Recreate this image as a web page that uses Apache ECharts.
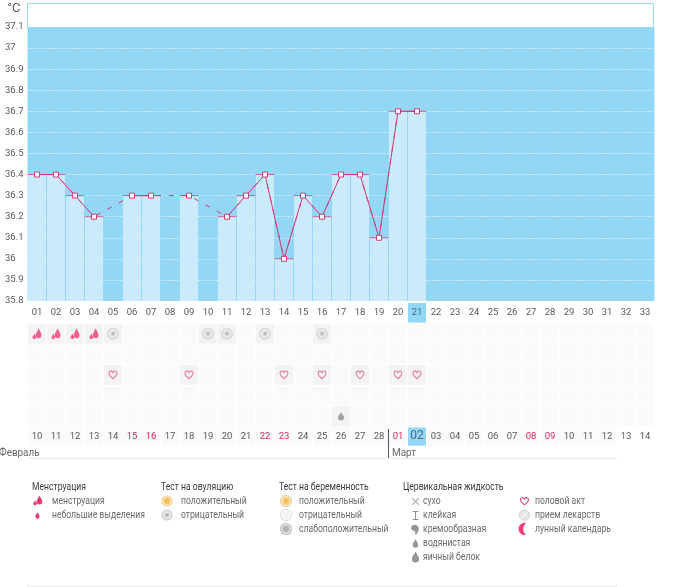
<!DOCTYPE html>
<html>
<head>
<meta charset="utf-8">
<title>График БТТ</title>
<script src="https://cdn.jsdelivr.net/npm/echarts@6/dist/echarts.min.js"></script>
<style>
    html, body { margin: 0; padding: 0; background: #fff; }
    #grafico { width: 692px; height: 587px; overflow: hidden; }
</style>
</head>
<body>
<div id="grafico"></div>
<script>
var cycleDays = ['01','02','03','04','05','06','07','08','09','10','11','12','13','14','15','16','17','18','19','20','21','22','23','24','25','26','27','28','29','30','31','32','33'];
var dateLabels = ['10','11','12','13','14','15','16','17','18','19','20','21','22','23','24','25','26','27','28','01','02','03','04','05','06','07','08','09','10','11','12','13','14'];
var temperatures = [36.4,36.4,36.3,36.2,null,36.3,36.3,null,36.3,null,36.2,36.3,36.4,36.0,36.3,36.2,36.4,36.4,36.1,36.7,36.7];
var holidayIdx = [5,6,12,13,19,26,27];
var todayIdx = 20;
var rowNames = ['r1','r2','r3','r4','r5'];

// days with marks (numbers of the cycle day)
var menstruationDays = [1,2,3,4];
var ovulationNegDays = [5,10,11,13,16];
var intercourseDays = [5,9,14,16,18,20,21];
var wateryDays = [17];

var legendMenstruation = ['менструация','небольшие выделения'];
var legendOvulation = ['положительный','отрицательный'];
var legendPregnancy = ['положительный','отрицательный','слабоположительный'];
var legendFluid = ['сухо','клейкая','кремообразная','водянистая','яичный белок'];
var legendOther = ['половой акт','прием лекарств','лунный календарь'];

var FONT = 'Roboto, sans-serif';
var PINK = '#d23a78';
var SKY = '#93d7f5';

var DROP = 'M0,-7C2,-3 4.5,-1 4.5,2.5A4.5,4.5 0 1 1 -4.5,2.5C-4.5,-1 -2,-3 0,-7Z';
var DOUBLE_DROP = 'M2,-7C3.5,-3 6,-1.5 6,1.5A4,4 0 0 1 -2,1.5C-2,-1.5 0.5,-3 2,-7ZM-4,0C-3,2 -1.5,3 -1.5,4.5A2.6,2.6 0 0 1 -6.6,4.5C-6.6,3 -5,2 -4,0Z';
var HEART = 'M0,6C-3,3.6 -6,1 -6,-2A3.2,3.2 0 0 1 0,-3.4A3.2,3.2 0 0 1 6,-2C6,1 3,3.6 0,6ZM0,4.2C2.4,2.3 4.6,0.2 4.6,-2A1.9,1.9 0 0 0 0.9,-2.2L0,-1L-0.9,-2.2A1.9,1.9 0 0 0 -4.6,-2C-4.6,0.2 -2.4,2.3 0,4.2Z';
var COMMA = 'M-2,-6A5.2,5.2 0 0 1 5,-1C5,3 3,6 0,7C1,4 0.5,2 -2,1.5A3.8,3.8 0 0 1 -2,-6Z';
var MOON = 'M3,-7A7.2,7.2 0 1 0 3,7A9,9 0 0 1 3,-7Z';
var CROSS = 'M-4,-4L4,4M-4,4L4,-4';
var STICKY = 'M-3.5,-5L3.5,-5M0,-5L0,5M-3.5,5L3.5,5';

// the graphic component has no "path" type, so the icons are registered as shapes
var iconPaths = { iconDrop: DROP, iconDouble: DOUBLE_DROP, iconHeart: HEART, iconComma: COMMA, iconMoon: MOON, iconCross: CROSS, iconSticky: STICKY };
Object.keys(iconPaths).forEach(function(name) {
    echarts.graphic.registerShape(name, echarts.graphic.extendPath(iconPaths[name], {}));
});

function ringFill(stops) {
    return { type: 'radial', x: 0.5, y: 0.5, r: 0.5, colorStops: stops };
}
var RING_GREY = ringFill([{offset:0,color:'#a6a6a6'},{offset:0.2,color:'#b4b4b4'},{offset:0.45,color:'#e6e6e6'},{offset:0.7,color:'#e4e4e4'},{offset:0.85,color:'#d2d2d2'},{offset:1,color:'#cdcdcd'}]);
var RING_ORANGE = ringFill([{offset:0,color:'#f5b84e'},{offset:0.55,color:'#f7c465'},{offset:0.7,color:'#fdeecb'},{offset:1,color:'#ecbb6d'}]);
var PREG_POS = ringFill([{offset:0,color:'#eeb24f'},{offset:0.5,color:'#f8cf7f'},{offset:0.8,color:'#fbe6bc'},{offset:1,color:'#c8c0a8'}]);
var PREG_NEG = ringFill([{offset:0,color:'#f3f3f3'},{offset:0.85,color:'#f6f6f6'},{offset:1,color:'#c8c8c8'}]);
var PREG_WEAK = ringFill([{offset:0,color:'#a8a8a8'},{offset:0.5,color:'#bdbdbd'},{offset:0.75,color:'#e6e6e6'},{offset:1,color:'#a6a6a6'}]);
var PILL = ringFill([{offset:0,color:'#ececec'},{offset:0.8,color:'#e2e2e2'},{offset:1,color:'#c6c6c6'}]);

function toPoints(days, row) {
    return days.map(function(d) { return [d - 1, row, 1]; });
}

// all the cells of the table, and those with a mark
var markedPoints = [].concat(
    toPoints(menstruationDays, 0), toPoints(ovulationNegDays, 0),
    toPoints(intercourseDays, 2), toPoints(wateryDays, 4)
);
var allCells = [];
rowNames.forEach(function(r, row) {
    cycleDays.forEach(function(d, i) { allCells.push([i, row, 0]); });
});

var capPoints = temperatures.map(function(v, i) { return v === null ? null : [i, v]; });

// legend: drawn with graphic elements, it is not tied to the series
var graphics = [];
function addText(text, x, y, fill, size, squeeze) {
    graphics.push({ type: 'text', silent: true, x: x, y: y, scaleX: squeeze || 0.86, style: {
        text: text, x: 0, y: 0, fill: fill, font: (size || 10) + 'px ' + FONT, textVerticalAlign: 'middle'
    }});
}
function addIcon(name, cx, cy, scale, fill, stroke) {
    graphics.push({ type: name, silent: true, x: cx, y: cy, scaleX: scale, scaleY: scale,
        style: { fill: fill || 'none', stroke: stroke || 'none', lineWidth: 1 / scale }
    });
}
function addCircle(cx, cy, r, fill) {
    graphics.push({ type: 'circle', silent: true, shape: { cx: cx, cy: cy, r: r }, style: { fill: fill } });
}
function addLine(x1, y1, x2, y2, color) {
    graphics.push({ type: 'line', silent: true, shape: { x1: x1, y1: y1, x2: x2, y2: y2 }, style: { stroke: color, lineWidth: 1 } });
}

var LEGEND_ROWS = [501, 515, 529, 543, 557];
var TXT = '#6a6a6a';
addText('Менструация', 32, 487, '#3c3c3c');
addText('Тест на овуляцию', 161, 487, '#3c3c3c');
addText('Тест на беременность', 279, 487, '#3c3c3c');
addText('Цервикальная жидкость', 403, 487, '#3c3c3c');
legendMenstruation.forEach(function(t, i) { addText(t, 52, LEGEND_ROWS[i], TXT); });
legendOvulation.forEach(function(t, i) { addText(t, 181, LEGEND_ROWS[i], TXT); });
legendPregnancy.forEach(function(t, i) { addText(t, 299, LEGEND_ROWS[i], TXT); });
legendFluid.forEach(function(t, i) { addText(t, 423, LEGEND_ROWS[i], TXT); });
legendOther.forEach(function(t, i) { addText(t, 535, LEGEND_ROWS[i], TXT); });

addIcon('iconDouble', 38, 500.5, 0.72, '#ee3a72');
addIcon('iconDrop', 37.5, 515.5, 0.45, '#ee3a72');
addCircle(167, 501, 5.5, RING_ORANGE);
addCircle(167, 515, 5.5, RING_GREY);
addCircle(286, 501, 6, PREG_POS);
addCircle(286, 515, 6, PREG_NEG);
addCircle(286, 529, 6, PREG_WEAK);
addIcon('iconCross', 415.5, 501.5, 0.85, null, '#a8a8a8');
addIcon('iconSticky', 415.5, 515.5, 0.8, null, '#909090');
addIcon('iconComma', 415, 529.5, 0.75, '#969696');
addIcon('iconDrop', 415.5, 543.5, 0.6, '#969696');
addIcon('iconDrop', 415.5, 557, 0.8, '#969696');
addIcon('iconHeart', 524.5, 501, 0.75, PINK);
addCircle(524.5, 515, 5.5, PILL);
addLine(520.5, 519, 528.5, 511, '#ffffff');
addIcon('iconMoon', 523.5, 529, 0.85, '#f0407a');

// frame over the chart, months and separators
graphics.push({ type: 'rect', silent: true, shape: { x: 27.5, y: 3.5, width: 626, height: 24 }, style: { fill: '#fff', stroke: '#9ad9f5', lineWidth: 1 } });
addLine(388.5, 429, 388.5, 458, '#555555');
addLine(27, 458.5, 617, 458.5, '#ececec');
addLine(27, 586.5, 617, 586.5, '#ececec');
addText('Февраль', -1, 453, '#666666', 11, 0.9);
addText('Март', 392, 453, '#666666', 11, 0.9);

var chart = echarts.init(document.getElementById('grafico'), null, { renderer: 'canvas' });
chart.setOption({
    animation: false,
    textStyle: { fontFamily: FONT },
    grid: [
        { left: 27.5, top: 27, width: 627, height: 274, show: true, backgroundColor: SKY, borderWidth: 0, outerBoundsMode: 'none' },
        { left: 27.5, top: 323.3, width: 627, height: 103.4, outerBoundsMode: 'none' }
    ],
    xAxis: [
        {
            type: 'category', gridIndex: 0, data: cycleDays,
            axisLine: { show: false }, axisTick: { show: false }, splitLine: { show: false },
            axisLabel: {
                interval: 0, margin: 2,
                formatter: function(value, index) {
                    return (index === todayIdx ? '{hl|' : '{n|') + value + '}';
                },
                rich: {
                    n: { color: '#5a5a5a', fontSize: 9.5, fontFamily: FONT, width: 18, height: 20, lineHeight: 20, align: 'center' },
                    hl: { color: '#4a6a80', fontSize: 9.5, fontFamily: FONT, width: 18, height: 20, lineHeight: 20, align: 'center', backgroundColor: SKY }
                }
            }
        },
        {
            type: 'category', gridIndex: 1, data: dateLabels,
            axisLine: { show: false }, axisTick: { show: false }, splitLine: { show: false },
            axisLabel: {
                interval: 0, margin: 0,
                formatter: function(value, index) {
                    if (index === todayIdx) { return '{hl|' + value + '}'; }
                    var st = holidayIdx.indexOf(index) >= 0 ? 'red' : 'n';
                    return '{' + st + (index > 30 ? 'x' : '') + '|' + value + '}';
                },
                rich: {
                    n: { color: '#5a5a5a', fontSize: 9.5, fontFamily: FONT, width: 18, height: 20, lineHeight: 20, align: 'center', backgroundColor: '#fafafb' },
                    nx: { color: '#5a5a5a', fontSize: 9.5, fontFamily: FONT, width: 18, height: 20, lineHeight: 20, align: 'center' },
                    red: { color: '#d8265f', fontSize: 9.5, fontFamily: FONT, width: 18, height: 20, lineHeight: 20, align: 'center', backgroundColor: '#fafafb' },
                    hl: { color: '#4a6a80', fontSize: 12, fontFamily: FONT, width: 18, height: 20, lineHeight: 18, align: 'center', backgroundColor: SKY }
                }
            }
        }
    ],
    yAxis: [
        {
            type: 'value', gridIndex: 0, min: 35.8, max: 37.1, interval: 0.1,
            name: '°C', nameLocation: 'end', nameGap: 12,
            nameTextStyle: { color: '#5a5a5a', fontSize: 13, align: 'right', padding: [0, 7, 0, 0] },
            axisLine: { show: false }, axisTick: { show: false },
            axisLabel: { color: '#5a5a5a', fontSize: 9.5, margin: 22.5, align: 'left', padding: [4, 0, 0, 0] },
            splitLine: { show: true, showMaxLine: false, lineStyle: { color: '#ffffff', type: [1, 2], width: 1 } }
        },
        {
            type: 'category', gridIndex: 1, data: rowNames, inverse: true, show: false
        }
    ],
    series: [
        {
            name: 'Столбцы', type: 'bar', xAxisIndex: 0, yAxisIndex: 0, data: temperatures,
            barWidth: 18, itemStyle: { color: '#cbebfc' }, silent: true, z: 2
        },
        {
            name: 'Пропуски', type: 'line', xAxisIndex: 0, yAxisIndex: 0, data: temperatures,
            connectNulls: true, showSymbol: false, symbol: 'none', silent: true, z: 3,
            lineStyle: { color: PINK, width: 1, type: [5, 8] }
        },
        {
            name: 'Вершины', type: 'scatter', xAxisIndex: 0, yAxisIndex: 0, data: capPoints,
            symbol: 'rect', symbolSize: [19, 1], itemStyle: { color: PINK }, silent: true, z: 4
        },
        {
            name: 'Температура', type: 'line', xAxisIndex: 0, yAxisIndex: 0, data: temperatures,
            connectNulls: false, symbol: 'rect', symbolSize: 5, showAllSymbol: true, silent: true, z: 5,
            lineStyle: { color: PINK, width: 1 },
            itemStyle: { color: '#ffffff', borderColor: PINK, borderWidth: 1 }
        },
        {
            name: 'Ячейки', type: 'heatmap', xAxisIndex: 1, yAxisIndex: 1, data: allCells, silent: true,
            itemStyle: { color: '#fafafb', borderColor: '#ffffff', borderWidth: 1 }
        },
        {
            name: 'Отмеченные', type: 'heatmap', xAxisIndex: 1, yAxisIndex: 1, data: markedPoints, silent: true,
            itemStyle: { color: '#f3f3f3', borderColor: '#ffffff', borderWidth: 1 }
        },
        {
            name: 'менструация', type: 'scatter', xAxisIndex: 1, yAxisIndex: 1, data: toPoints(menstruationDays, 0),
            symbol: 'path://' + DOUBLE_DROP, symbolSize: [9, 11], itemStyle: { color: '#ee3a72' }, silent: true, z: 5
        },
        {
            name: 'овуляция', type: 'scatter', xAxisIndex: 1, yAxisIndex: 1, data: toPoints(ovulationNegDays, 0),
            symbol: 'circle', symbolSize: 12, itemStyle: { color: RING_GREY }, silent: true, z: 5
        },
        {
            name: 'половой акт', type: 'scatter', xAxisIndex: 1, yAxisIndex: 1, data: toPoints(intercourseDays, 2),
            symbol: 'path://' + HEART, symbolSize: [9, 9], itemStyle: { color: '#e0608f' }, silent: true, z: 5
        },
        {
            name: 'водянистая', type: 'scatter', xAxisIndex: 1, yAxisIndex: 1, data: toPoints(wateryDays, 4),
            symbol: 'path://' + DROP, symbolSize: [6, 8], itemStyle: { color: '#8c8c8c' }, silent: true, z: 5
        }
    ],
    graphic: graphics
});
</script>
</body>
</html>
